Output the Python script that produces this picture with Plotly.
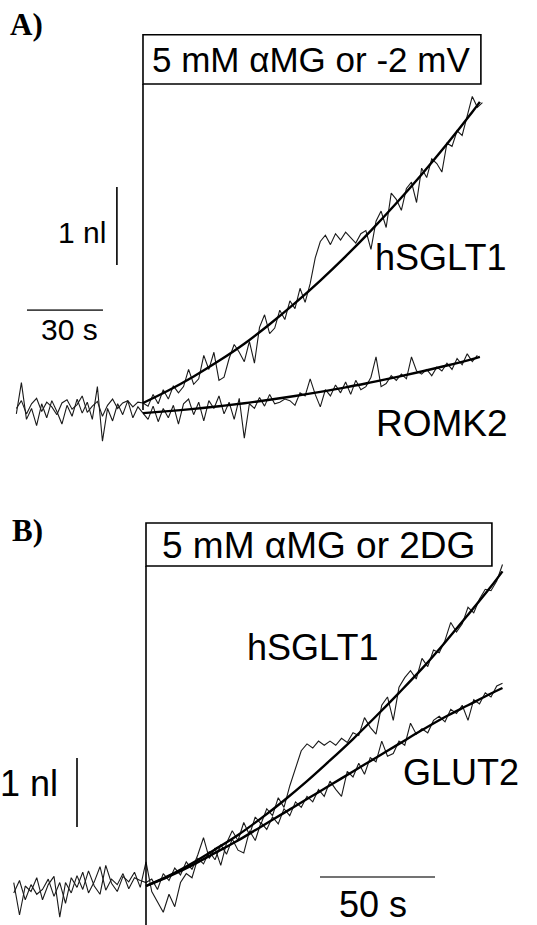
import plotly.graph_objects as go

# ---------------- Panel A : volume traces (nl) sampled every 2 s ----------------
A_T0, A_DT = -50.0, 2.0
A_SGLT1 = [
    0.02, 0.12, -0.05, 0.08, 0.15, -0.02, 0.10, 0.04, -0.06, 0.09,
    0.13, 0.01, 0.07, 0.18, -0.03, 0.05, 0.11, -0.08, 0.06, 0.14,
    0.02, 0.09, 0.12, 0.04, 0.10, 0.09,
    0.05, 0.20, 0.08, 0.26, 0.14, 0.31, 0.22, 0.30, 0.52, 0.33,
    0.40, 0.70, 0.52, 0.74, 0.38, 0.42, 0.66, 0.84, 0.74, 0.62,
    0.88, 0.60, 1.06, 1.22, 0.98, 1.05, 1.28, 1.16, 1.40, 1.30,
    1.56, 1.38, 1.62, 1.95, 2.16, 2.24, 2.12, 2.26, 2.18, 2.28,
    2.21, 2.14, 2.26, 2.30, 2.06, 2.42, 2.55, 2.34, 2.78, 2.70,
    2.56, 2.84, 2.92, 2.66, 3.10, 2.98, 3.22, 3.16, 3.05, 3.42,
    3.38, 3.58, 3.52, 3.78, 4.02, 3.88, 3.94,
]
A_ROMK2 = [
    -0.05, 0.35, -0.12, 0.02, -0.20, 0.08, -0.10, 0.12, -0.02, -0.18,
    0.06, -0.08, 0.14, -0.04, 0.10, -0.12, 0.30, -0.40, 0.02, -0.14,
    0.08, -0.06, 0.12, -0.10, 0.04, -0.04,
    -0.12, 0.05, -0.15, 0.02, -0.10, 0.06, -0.18, 0.08, 0.14, -0.06,
    0.10, -0.14, 0.12, 0.02, 0.18, -0.05, 0.10, -0.12, 0.15, -0.36,
    0.08, 0.02, 0.16, 0.05, 0.20, 0.08, 0.10, 0.14, 0.12, 0.06,
    0.22, 0.18, 0.40, 0.20, 0.04, 0.26, 0.18, 0.32, 0.22, 0.36,
    0.20, 0.38, 0.26, 0.30, 0.42, 0.68, 0.30, 0.34, 0.44, 0.38,
    0.46, 0.40, 0.68, 0.50, 0.46, 0.52, 0.44, 0.55, 0.50, 0.60,
    0.52, 0.66, 0.58, 0.72, 0.62, 0.70,
]
# fitted curves, panel A
A_FIT_T = [0, 10, 20, 30, 40, 50, 60, 70, 80, 90, 100, 110, 120, 130, 133]
A_SGLT1_FIT = [0.09, 0.25, 0.43, 0.63, 0.85, 1.10, 1.37, 1.66, 1.97, 2.30,
               2.65, 3.02, 3.41, 3.82, 3.95]
A_ROMK2_FIT = [-0.04, -0.015, 0.014, 0.048, 0.087, 0.131, 0.18, 0.233, 0.29,
               0.354, 0.421, 0.493, 0.57, 0.652, 0.68]

# ---------------- Panel B : volume traces (nl) sampled every 2.5 s ----------------
B_T0, B_DT = -57.5, 2.5
B_SGLT1 = [
    -0.10, 0.08, -0.20, 0.02, -0.12, -0.05, 0.10, -0.15, 0.05, -0.25,
    0.12, -0.02, 0.20, -0.10, 0.06, 0.28, -0.06, 0.10, 0.02, 0.18,
    -0.04, 0.12, 0.08, 0.05,
    0.10, -0.05, 0.18, 0.08, 0.26, 0.16, 0.35, 0.24, 0.45, 0.70,
    0.40, 0.55, 0.30, 0.62, 0.80, 0.66, 0.92, 0.74, 1.00, 0.90,
    1.12, 1.02, 1.28, 1.14, 1.45, 1.72, 1.96, 2.06, 2.00, 2.10,
    2.04, 2.10, 2.04, 2.14, 2.08, 2.22, 2.18, 2.44, 2.30, 2.20,
    2.62, 2.74, 2.40, 2.88, 3.02, 3.12, 3.00, 3.30, 3.18, 3.42,
    3.38, 3.56, 3.82, 3.68, 3.80, 4.04, 3.96, 4.16, 4.30, 4.28,
    4.42, 4.66,
]
B_GLUT2 = [
    0.05, -0.42, 0.00, -0.08, 0.12, -0.20, 0.02, 0.14, -0.45, 0.05,
    -0.10, 0.15, -0.05, 0.22, 0.00, -0.12, 0.30, 0.04, -0.08, 0.14,
    0.06, 0.20, -0.02, 0.35,
    -0.08, -0.22, -0.38, -0.12, -0.30, 0.05, 0.18, 0.12, 0.40, 0.32,
    0.50, 0.38, 0.60, 0.46, 0.68, 0.52, 0.48, 0.80, 0.66, 0.92,
    0.82, 1.00, 0.90, 1.12, 1.02, 1.22, 1.14, 1.30, 1.22, 1.40,
    1.30, 1.52, 1.40, 1.30, 1.66, 1.58, 1.78, 1.62, 1.86, 1.80,
    2.10, 1.88, 1.92, 2.10, 2.04, 2.36, 2.20, 2.28, 2.22, 2.40,
    2.46, 2.38, 2.56, 2.50, 2.62, 2.40, 2.70, 2.64, 2.80, 2.74,
    2.90, 2.94,
]
# fitted curves, panel B
B_FIT_T = [0, 10, 20, 30, 40, 50, 60, 70, 80, 90, 100, 110, 120, 130, 140, 150, 155]
B_SGLT1_FIT = [0.00, 0.15, 0.33, 0.53, 0.74, 0.98, 1.24, 1.52, 1.82, 2.13,
               2.46, 2.80, 3.15, 3.53, 3.93, 4.34, 4.56]
B_GLUT2_FIT = [0.00, 0.14, 0.30, 0.48, 0.66, 0.86, 1.06, 1.26, 1.46, 1.66,
               1.86, 2.06, 2.26, 2.45, 2.62, 2.79, 2.87]

# scale bars and stimulus boxes
A_SCALE_NL, A_SCALE_S = 1.0, 30.0
B_SCALE_NL, B_SCALE_S = 1.0, 50.0
A_LABEL = "5 mM \u03b1MG or -2 mV"
B_LABEL = "5 mM \u03b1MG or 2DG"

SANS = "Liberation Sans, Arial, sans-serif"
SERIF = "Liberation Serif, Times New Roman, serif"


def times(t0, dt, n):
    return [t0 + dt * i for i in range(n)]


fig = go.Figure()


def raw(t, y, xa, ya):
    fig.add_trace(go.Scatter(x=t, y=y, xaxis=xa, yaxis=ya, mode="lines",
                             line=dict(color="#1a1a1a", width=1.1),
                             hoverinfo="skip", showlegend=False))


def fit(t, y, xa, ya):
    fig.add_trace(go.Scatter(x=t, y=y, xaxis=xa, yaxis=ya, mode="lines",
                             line=dict(color="black", width=2.4, shape="spline"),
                             hoverinfo="skip", showlegend=False))


raw(times(A_T0, A_DT, len(A_SGLT1)), A_SGLT1, "x", "y")
raw(times(A_T0, A_DT, len(A_ROMK2)), A_ROMK2, "x", "y")
fit(A_FIT_T, A_SGLT1_FIT, "x", "y")
fit(A_FIT_T, A_ROMK2_FIT, "x", "y")

raw(times(B_T0, B_DT, len(B_SGLT1)), B_SGLT1, "x2", "y2")
raw(times(B_T0, B_DT, len(B_GLUT2)), B_GLUT2, "x2", "y2")
fit(B_FIT_T, B_SGLT1_FIT, "x2", "y2")
fit(B_FIT_T, B_GLUT2_FIT, "x2", "y2")

LINE = dict(color="black", width=1.6)
shapes = [
    # panel A
    dict(type="rect", xref="x", yref="y", x0=0, x1=133.4, y0=4.18, y1=4.81, line=LINE),
    dict(type="line", xref="x", yref="y", x0=0, x1=0, y0=0.0, y1=4.18, line=LINE),
    dict(type="line", xref="x", yref="y", x0=-10.3, x1=-10.3, y0=1.86, y1=1.86 + A_SCALE_NL, line=LINE),
    dict(type="line", xref="x", yref="y", x0=-45.8, x1=-45.8 + A_SCALE_S, y0=1.28, y1=1.28,
         line=dict(color="#444", width=1.6)),
    # panel B
    dict(type="rect", xref="x2", yref="y2", x0=0, x1=150.4, y0=4.638, y1=5.261, line=LINE),
    dict(type="line", xref="x2", yref="y2", x0=0, x1=0, y0=-0.6, y1=4.638, line=LINE),
    dict(type="line", xref="x2", yref="y2", x0=-30, x1=-30, y0=0.855, y1=0.855 + B_SCALE_NL, line=LINE),
    dict(type="line", xref="x2", yref="y2", x0=75.65, x1=75.65 + B_SCALE_S, y0=0.13, y1=0.13,
         line=dict(color="#444", width=1.6)),
]


def note(text, x, y, xref, yref, size, xanchor="center", family=SANS):
    return dict(text=text, x=x, y=y, xref=xref, yref=yref, showarrow=False,
                xanchor=xanchor, yanchor="middle",
                font=dict(family=family, size=size, color="black"))


annotations = [
    note("<b>A)</b>", 0.050, 0.974, "paper", "paper", 31, family=SERIF),
    note("<b>B)</b>", 0.052, 0.427, "paper", "paper", 31, family=SERIF),
    note(A_LABEL, 66.5, 4.49, "x", "y", 35),
    note("1 nl", -14.0, 2.28, "x", "y", 30, xanchor="right"),
    note("30 s", -29.2, 1.03, "x", "y", 30),
    note("hSGLT1", 117.5, 1.95, "x", "y", 36),
    note("ROMK2", 118.0, -0.17, "x", "y", 37),
    note(B_LABEL, 75.2, 4.94, "x2", "y2", 37),
    note("1 nl", -37.4, 1.49, "x2", "y2", 36, xanchor="right"),
    note("50 s", 98.7, -0.275, "x2", "y2", 36),
    note("hSGLT1", 72.6, 3.45, "x2", "y2", 36),
    note("GLUT2", 137.0, 1.65, "x2", "y2", 36),
]

hidden = dict(visible=False, showgrid=False, zeroline=False, fixedrange=True)
fig.update_layout(
    width=537, height=925,
    margin=dict(l=0, r=0, t=0, b=0),
    paper_bgcolor="white", plot_bgcolor="white",
    showlegend=False,
    xaxis=dict(domain=[0, 1], range=[-56.45, 155.55], anchor="y", **hidden),
    yaxis=dict(domain=[0.5027, 1], range=[-0.641, 5.256], anchor="x", **hidden),
    xaxis2=dict(domain=[0, 1], range=[-63.48, 170.0], anchor="y2", **hidden),
    yaxis2=dict(domain=[0, 0.5027], range=[-0.565, 6.174], anchor="x2", **hidden),
    shapes=shapes,
    annotations=annotations,
)

fig.write_html("out.html")
